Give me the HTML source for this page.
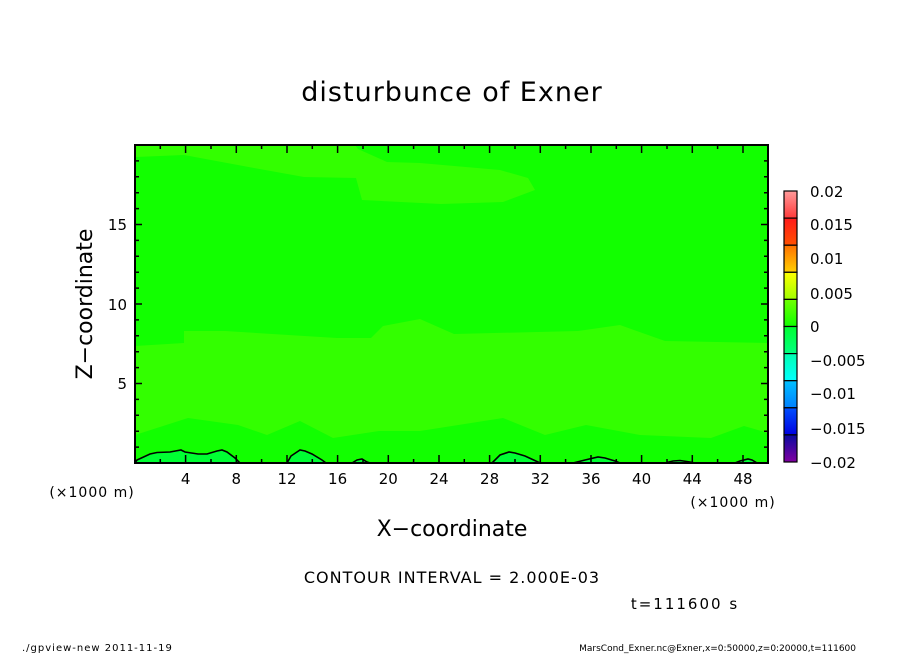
<!DOCTYPE html>
<html><head><meta charset="utf-8"><style>
html,body{margin:0;padding:0;background:#fff;}
svg{display:block;font-family:"DejaVu Sans","Liberation Sans",sans-serif;}
</style></head><body>
<svg width="904" height="654" viewBox="0 0 904 654" xmlns="http://www.w3.org/2000/svg">
<rect width="904" height="654" fill="#fff"/>
<text x="452" y="101" font-size="27" letter-spacing="1" text-anchor="middle" fill="#000">disturbunce of Exner</text>
<defs><clipPath id="pc"><rect x="135" y="145" width="633" height="318"/></clipPath></defs>
<g clip-path="url(#pc)">
<rect x="135" y="145" width="633" height="318" fill="#12ff00"/>
<polygon fill="#33ff00" points="135,145 355,145 358,149 387,162 420,163 500,170 528,178 535,190 503,202 441,204 362,200 356,178 304,177 254,168 184,155 136,157"/>
<polygon fill="#33ff00" points="135,346 184,343 184,331 225,331 337,338 371,338 383,326 420,319 454,334 578,331 620,325 665,341 768,343 768,433 744,426 711,438 640,435 586,425 545,435 503,418 420,431 379,431 333,438 300,421 267,435 238,425 188,418 135,435"/>
<g fill="#00ff33" stroke="#000" stroke-width="1.6">
<path d="M135,463 L137,460 150,454 157,452.5 170,452 181,450 185,452 198,454 207,454 217,451 222,450 227,452 235,458 240,463 Z"/>
<path d="M287,463 L291,456 300,450 305,451 312,454 322,460 326,463 Z"/>
<path d="M352,463 L357,460 362,459 367,462 370,463 Z"/>
<path d="M492,463 L500,455 509,452 515,453 525,456 538,462 540,463 Z"/>
<path d="M573,463 L585,460 598,457 605,458 615,461 620,463 Z"/>
<path d="M665,463 L673,461 680,460.5 690,462 695,463 Z"/>
<path d="M735,463 L740,461 748,459 752,460 757,463 Z"/>
</g>
</g>
<rect x="135" y="145" width="633" height="318" fill="none" stroke="#000" stroke-width="2"/>
<g stroke="#000" stroke-width="1.5">
<path d="M160.3,463v-4M185.6,463v-8M211,463v-4M236.3,463v-8M261.6,463v-4M287,463v-8M312.3,463v-4M337.6,463v-8M363,463v-4M388.3,463v-8M413.6,463v-4M439,463v-8M464.3,463v-4M489.6,463v-8M515,463v-4M540.3,463v-8M565.6,463v-4M591,463v-8M616.3,463v-4M641.6,463v-8M667,463v-4M692.3,463v-8M717.6,463v-4M743,463v-8"/>
<path d="M160.3,145v4M185.6,145v8M211,145v4M236.3,145v8M261.6,145v4M287,145v8M312.3,145v4M337.6,145v8M363,145v4M388.3,145v8M413.6,145v4M439,145v8M464.3,145v4M489.6,145v8M515,145v4M540.3,145v8M565.6,145v4M591,145v8M616.3,145v4M641.6,145v8M667,145v4M692.3,145v8M717.6,145v4M743,145v8"/>
<path d="M135,447.1h4M135,431.2h4M135,415.3h4M135,399.4h4M135,383.5h7M135,367.6h4M135,351.7h4M135,335.8h4M135,319.9h4M135,304h7M135,288.1h4M135,272.2h4M135,256.3h4M135,240.4h4M135,224.5h7M135,208.6h4M135,192.7h4M135,176.8h4M135,160.9h4"/>
<path d="M768,447.1h-4M768,431.2h-4M768,415.3h-4M768,399.4h-4M768,383.5h-7M768,367.6h-4M768,351.7h-4M768,335.8h-4M768,319.9h-4M768,304h-7M768,288.1h-4M768,272.2h-4M768,256.3h-4M768,240.4h-4M768,224.5h-7M768,208.6h-4M768,192.7h-4M768,176.8h-4M768,160.9h-4"/>
</g>
<g font-size="15" fill="#000" text-anchor="middle">
<text x="185.6" y="484">4</text><text x="236.3" y="484">8</text><text x="287" y="484">12</text><text x="337.6" y="484">16</text><text x="388.3" y="484">20</text><text x="439" y="484">24</text><text x="489.6" y="484">28</text><text x="540.3" y="484">32</text><text x="591" y="484">36</text><text x="641.6" y="484">40</text><text x="692.3" y="484">44</text><text x="743" y="484">48</text>
</g>
<g font-size="15" fill="#000" text-anchor="end">
<text x="127" y="389">5</text><text x="127" y="310">10</text><text x="127" y="230">15</text>
</g>
<text x="92" y="497" font-size="14" letter-spacing="1" text-anchor="middle">(×1000 m)</text>
<text x="733" y="507" font-size="14" letter-spacing="1" text-anchor="middle">(×1000 m)</text>
<text x="452" y="536" font-size="22" text-anchor="middle">X−coordinate</text>
<text transform="translate(92,304) rotate(-90)" font-size="22" text-anchor="middle">Z−coordinate</text>
<text x="452" y="583" font-size="16" letter-spacing="1" text-anchor="middle">CONTOUR INTERVAL = 2.000E-03</text>
<text x="685" y="609" font-size="15" letter-spacing="2" text-anchor="middle">t=111600 s</text>
<text x="22" y="651" font-size="10" letter-spacing="1">./gpview-new   2011-11-19</text>
<text x="856" y="651" font-size="9" text-anchor="end">MarsCond_Exner.nc@Exner,x=0:50000,z=0:20000,t=111600</text>
<defs>
<linearGradient id="g1" x1="0" y1="0" x2="0" y2="1"><stop offset="0" stop-color="#ff9a9a"/><stop offset="1" stop-color="#ff3a3a"/></linearGradient>
<linearGradient id="g2" x1="0" y1="0" x2="0" y2="1"><stop offset="0" stop-color="#ff1a1a"/><stop offset="1" stop-color="#ff5000"/></linearGradient>
<linearGradient id="g3" x1="0" y1="0" x2="0" y2="1"><stop offset="0" stop-color="#ff7000"/><stop offset="1" stop-color="#ffd000"/></linearGradient>
<linearGradient id="g4" x1="0" y1="0" x2="0" y2="1"><stop offset="0" stop-color="#ffff00"/><stop offset="1" stop-color="#a0ff00"/></linearGradient>
<linearGradient id="g5" x1="0" y1="0" x2="0" y2="1"><stop offset="0" stop-color="#70ff00"/><stop offset="1" stop-color="#10ff00"/></linearGradient>
<linearGradient id="g6" x1="0" y1="0" x2="0" y2="1"><stop offset="0" stop-color="#00ff30"/><stop offset="1" stop-color="#00ff80"/></linearGradient>
<linearGradient id="g7" x1="0" y1="0" x2="0" y2="1"><stop offset="0" stop-color="#00ffb0"/><stop offset="1" stop-color="#00ffff"/></linearGradient>
<linearGradient id="g8" x1="0" y1="0" x2="0" y2="1"><stop offset="0" stop-color="#00c0ff"/><stop offset="1" stop-color="#0080ff"/></linearGradient>
<linearGradient id="g9" x1="0" y1="0" x2="0" y2="1"><stop offset="0" stop-color="#0050ff"/><stop offset="1" stop-color="#0000e0"/></linearGradient>
<linearGradient id="g10" x1="0" y1="0" x2="0" y2="1"><stop offset="0" stop-color="#0a0aa0"/><stop offset="1" stop-color="#8000a0"/></linearGradient>
</defs>
<g stroke="#000" stroke-width="1.2">
<rect x="784" y="191" width="13" height="27.1" fill="url(#g1)"/>
<rect x="784" y="218.1" width="13" height="27.1" fill="url(#g2)"/>
<rect x="784" y="245.2" width="13" height="27.1" fill="url(#g3)"/>
<rect x="784" y="272.3" width="13" height="27.1" fill="url(#g4)"/>
<rect x="784" y="299.4" width="13" height="27.1" fill="url(#g5)"/>
<rect x="784" y="326.5" width="13" height="27.1" fill="url(#g6)"/>
<rect x="784" y="353.6" width="13" height="27.1" fill="url(#g7)"/>
<rect x="784" y="380.7" width="13" height="27.1" fill="url(#g8)"/>
<rect x="784" y="407.8" width="13" height="27.1" fill="url(#g9)"/>
<rect x="784" y="434.9" width="13" height="27.1" fill="url(#g10)"/>
</g>
<g font-size="15" fill="#000">
<text x="810" y="197">0.02</text><text x="810" y="230">0.015</text><text x="810" y="264">0.01</text><text x="810" y="299">0.005</text><text x="810" y="332">0</text><text x="810" y="366">−0.005</text><text x="810" y="399">−0.01</text><text x="810" y="434">−0.015</text><text x="810" y="468">−0.02</text>
</g>
</svg>
</body></html>
